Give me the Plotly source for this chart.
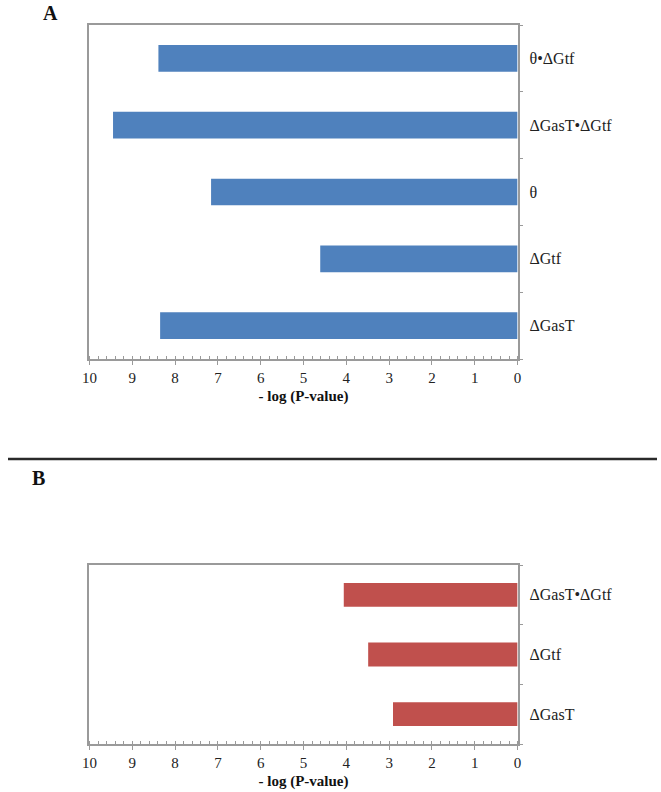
import plotly.graph_objects as go

# Panel A data (top-to-bottom display order)
cats_a = ["θ•ΔGtf", "ΔGasT•ΔGtf", "θ", "ΔGtf", "ΔGasT"]
vals_a = [8.39, 9.45, 7.16, 4.61, 8.35]

# Panel B data (top-to-bottom display order)
cats_b = ["ΔGasT•ΔGtf", "ΔGtf", "ΔGasT"]
vals_b = [4.06, 3.49, 2.91]

x_title = "- log (P-value)"
panel_labels = ["A", "B"]

W, H = 661, 792
FONT = "Liberation Serif, Times New Roman, serif"
AX = "#9a9a9a"
BLUE = "#4F81BD"
RED = "#C0504D"

def py(px):
    return 1 - px / H

xdom = [83 / W, 519 / W]
ydom_a = [py(359), py(25)]
ydom_b = [py(744), py(565)]

fig = go.Figure()
fig.add_trace(go.Bar(x=vals_a, y=cats_a, orientation="h", width=0.4,
                     marker=dict(color=BLUE, line=dict(width=0)),
                     xaxis="x", yaxis="y", showlegend=False))
fig.add_trace(go.Bar(x=vals_b, y=cats_b, orientation="h", width=0.4,
                     marker=dict(color=RED, line=dict(width=0)),
                     xaxis="x2", yaxis="y2", showlegend=False))

def xaxis_main(anchor):
    return dict(domain=xdom, anchor=anchor, range=[10, 0], tick0=0, dtick=1,
                ticks="outside", ticklen=4, tickcolor=AX, tickwidth=1,
                minor=dict(ticks="inside", dtick=0.2, ticklen=3, tickcolor=AX, tickwidth=1),
                showline=True, linecolor=AX, linewidth=1.5, mirror=True,
                showgrid=False, zeroline=False,
                tickfont=dict(family=FONT, size=15, color="#222"),
                title=dict(text="<b>" + x_title + "</b>", standoff=6,
                           font=dict(family=FONT, size=15, color="#111")))

def xaxis_overlay(over, anchor):
    return dict(domain=xdom, anchor=anchor, overlaying=over, range=[10, 0], tick0=0, dtick=1,
                ticks="inside", ticklen=4, tickcolor=AX, tickwidth=1,
                showticklabels=False, showline=False, showgrid=False, zeroline=False)

def yaxis_main(anchor, dom, cats):
    n = len(cats)
    return dict(domain=dom, anchor=anchor, side="right", type="category",
                categoryorder="array", categoryarray=list(reversed(cats)),
                range=[-0.5, n - 0.5], tickson="boundaries",
                ticks="outside", ticklen=4, tickcolor=AX, tickwidth=1,
                ticklabelstandoff=7,
                showline=True, linecolor=AX, linewidth=1.5, mirror=True,
                showgrid=False, zeroline=False,
                tickfont=dict(family=FONT, size=16, color="#222"))

def yaxis_overlay(over, anchor, dom, n):
    return dict(domain=dom, anchor=anchor, overlaying=over, side="right",
                range=[-0.5, n - 0.5], tick0=-0.5, dtick=1,
                ticks="inside", ticklen=4, tickcolor=AX, tickwidth=1,
                showticklabels=False, showline=False, showgrid=False, zeroline=False)

fig.update_layout(
    width=W, height=H,
    margin=dict(l=0, r=0, t=0, b=0),
    paper_bgcolor="white", plot_bgcolor="white",
    bargap=0.6,
    xaxis=xaxis_main("y"),
    yaxis=yaxis_main("x", ydom_a, cats_a),
    xaxis2=xaxis_main("y2"),
    yaxis2=yaxis_main("x2", ydom_b, cats_b),
    xaxis3=xaxis_overlay("x", "y"),
    yaxis3=yaxis_overlay("y", "x", ydom_a, len(cats_a)),
    xaxis4=xaxis_overlay("x2", "y2"),
    yaxis4=yaxis_overlay("y2", "x2", ydom_b, len(cats_b)),
    shapes=[dict(type="line", xref="paper", yref="paper", x0=0, x1=1,
                 y0=py(459), y1=py(459), line=dict(color="#2a2a2a", width=2.5))],
    annotations=[
        dict(text="<b>" + panel_labels[0] + "</b>", xref="paper", yref="paper",
             x=43 / W, y=py(13), showarrow=False, xanchor="center", yanchor="middle",
             font=dict(family=FONT, size=20, color="#111")),
        dict(text="<b>" + panel_labels[1] + "</b>", xref="paper", yref="paper",
             x=31 / W, y=py(478), showarrow=False, xanchor="center", yanchor="middle",
             font=dict(family=FONT, size=20, color="#111")),
    ],
)

fig.write_html("out.html", config={"displayModeBar": False},
               post_script="document.body.style.margin='0';document.body.style.overflow='hidden';")
